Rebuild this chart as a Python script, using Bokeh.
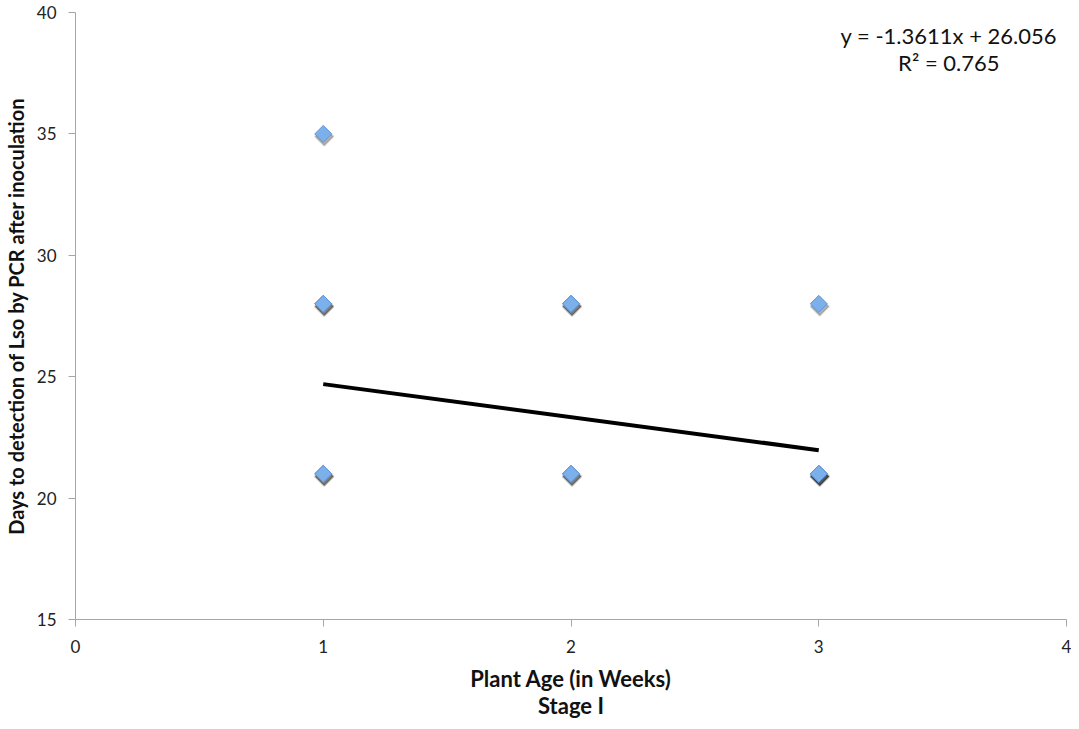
import math
from bokeh.plotting import figure
from bokeh.models import Label, Range1d, ColumnDataSource
from bokeh.transform import dodge
from bokeh.embed import file_html
from bokeh.resources import INLINE

# Data (plant age in weeks, days to detection)
ages = [1, 1, 1, 1, 1, 2, 2, 2, 2, 3, 3, 3, 3]
days = [35, 28, 28, 21, 21, 28, 28, 21, 21, 28, 21, 21, 21]
slope = -1.3611
intercept = 26.056
r2 = 0.765
x_ticks = [0, 1, 2, 3, 4]
y_ticks = [15, 20, 25, 30, 35, 40]

FONT = "Lato"

p = figure(width=1071, height=721, output_backend="svg", toolbar_location=None,
           x_range=Range1d(0, 4), y_range=Range1d(15, 40),
           min_border_left=67, min_border_right=5, min_border_top=12, min_border_bottom=96)
p.grid.visible = False
p.outline_line_color = None

for ax in (p.xaxis[0], p.yaxis[0]):
    ax.axis_line_color = "#a6a6a6"
    ax.major_tick_line_color = "#a6a6a6"
    ax.major_tick_out = 7
    ax.major_tick_in = 0
    ax.minor_tick_line_color = None
    ax.major_label_text_font = FONT
    ax.major_label_text_font_size = "17px"
    ax.major_label_text_color = "#222222"
    ax.axis_label_text_font = FONT
    ax.axis_label_text_font_style = "bold"
    ax.axis_label_text_color = "#111111"

p.xaxis.ticker = x_ticks
p.yaxis.ticker = y_ticks
p.xaxis.major_label_standoff = 13
p.yaxis.major_label_standoff = 12
p.xaxis.axis_label = "Plant Age (in Weeks)\nStage I"
p.xaxis.axis_label_text_font_size = "22px"
p.xaxis.axis_label_text_line_height = 1.0
p.xaxis.axis_label_standoff = 9
p.yaxis.axis_label = "Days to detection of Lso by PCR after inoculation"
p.yaxis.axis_label_text_font_size = "20px"
p.yaxis.axis_label_standoff = 6

src = ColumnDataSource(dict(x=ages, y=days))

# trend line computed from regression coefficients
x0, x1 = min(ages), max(ages)
p.line([x0, x1], [slope * x0 + intercept, slope * x1 + intercept],
       line_color="black", line_width=4)

# shadow
p.scatter(x=dodge("x", 0.004, range=p.x_range), y=dodge("y", -0.11, range=p.y_range),
          source=src, marker="square", angle=math.pi / 4, size=13,
          fill_color="black", fill_alpha=0.3, line_color="black", line_alpha=0.12,
          line_width=2)
p.scatter(x="x", y="y", source=src, marker="square", angle=math.pi / 4, size=12,
          fill_color="#7cb0ea", line_color="#5e95d8", line_width=1)

eq = Label(x=3.525, y=39.6, text=f"y = {slope}x + {intercept}\nR² = {r2}",
           text_align="center", text_baseline="top", text_font=FONT,
           text_font_size="22px", text_color="#111111", text_line_height=1.0)
p.add_layout(eq)

open("out.html", "w").write(file_html(p, INLINE))
